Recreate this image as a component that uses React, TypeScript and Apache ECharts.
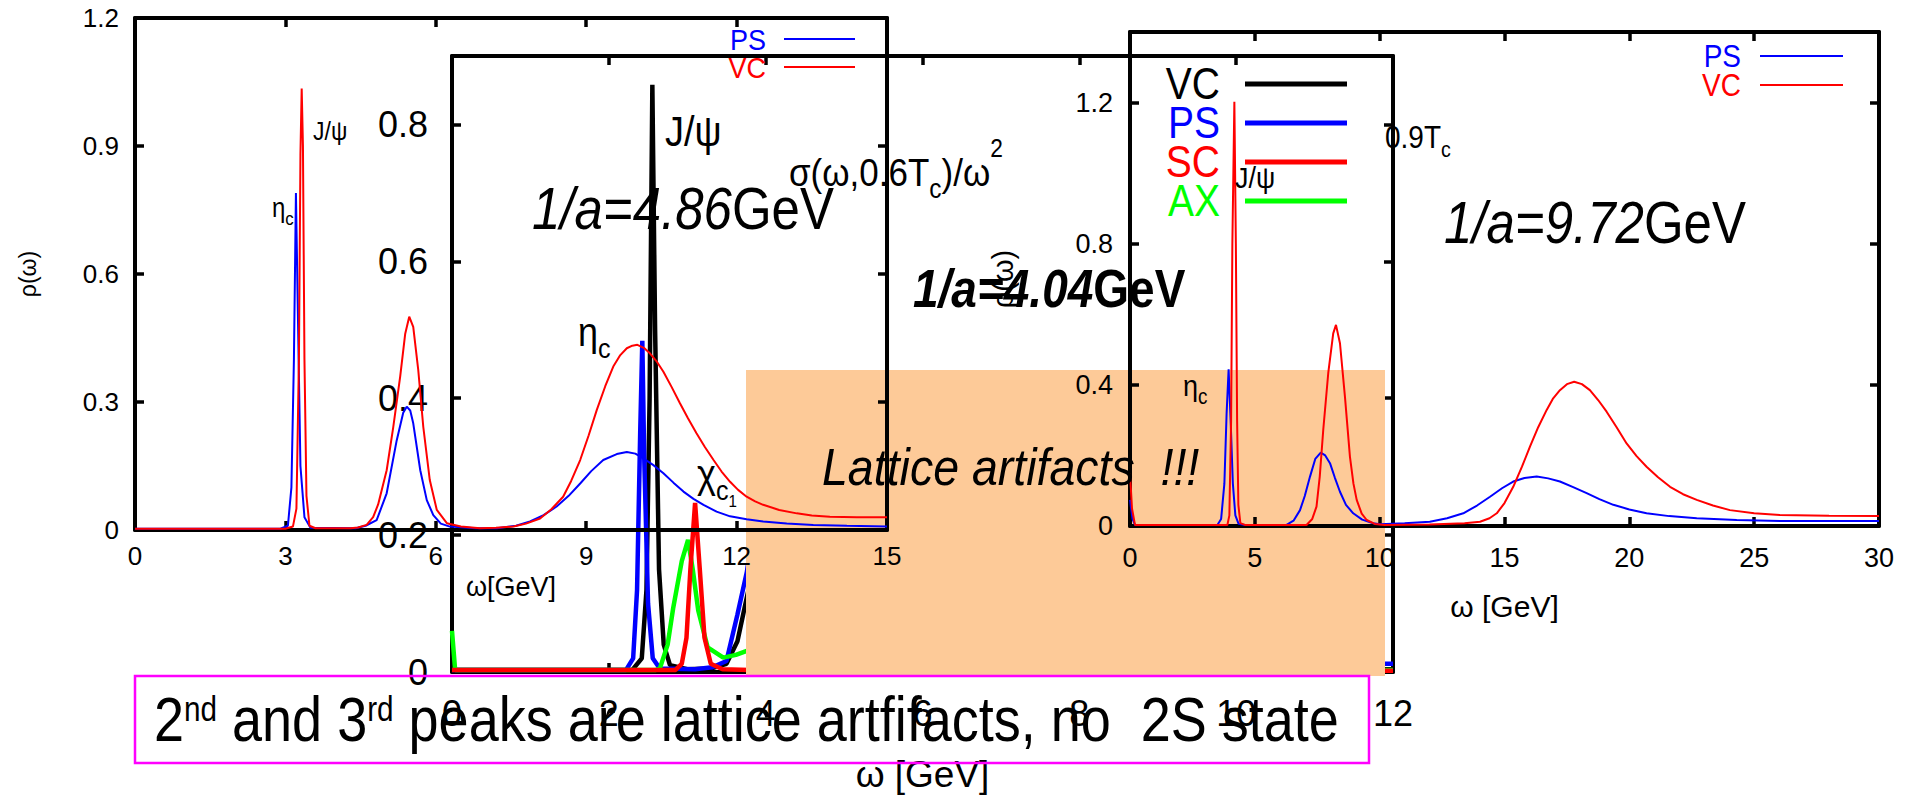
import { useEffect, useRef } from "react";
import * as echarts from "echarts";

type P = [number, number | null];

// ---------- Panel A: 1/a = 4.86 GeV (thin lines) ----------
const panelA_PS: P[] = [
  [0, 0.003], [2.9, 0.003], [3.05, 0.01], [3.12, 0.1], [3.17, 0.4], [3.21, 0.79], [3.25, 0.5], [3.3, 0.15],
  [3.38, 0.03], [3.5, 0.005], [4.4, 0.004], [4.6, 0.01], [4.82, 0.023], [5.02, 0.086], [5.22, 0.21], [5.35, 0.275],
  [5.42, 0.289], [5.49, 0.28], [5.55, 0.25], [5.69, 0.14], [5.82, 0.07], [5.95, 0.035], [6.1, 0.015], [6.28, 0.008],
  [6.8, 0.004], [7.22, 0.004], [7.6, 0.01], [7.88, 0.02], [8.15, 0.035], [8.41, 0.055], [8.65, 0.08], [8.88, 0.109],
  [9.1, 0.138], [9.34, 0.164], [9.61, 0.178], [9.81, 0.183], [9.98, 0.179], [10.14, 0.168], [10.34, 0.152],
  [10.54, 0.133], [10.74, 0.111], [10.94, 0.09], [11.14, 0.073], [11.34, 0.059], [11.6, 0.043], [11.87, 0.032],
  [12.2, 0.025], [12.53, 0.02], [13.0, 0.015], [13.53, 0.012], [14.2, 0.01], [15, 0.008],
];
const panelA_VC: P[] = [
  [0, 0.003], [3.0, 0.003], [3.15, 0.008], [3.22, 0.05], [3.27, 0.4], [3.3, 0.88], [3.325, 1.035], [3.35, 0.9],
  [3.38, 0.4], [3.42, 0.08], [3.48, 0.01], [3.6, 0.004], [4.3, 0.004], [4.45, 0.006], [4.62, 0.012], [4.75, 0.03],
  [4.85, 0.06], [5.02, 0.14], [5.15, 0.24], [5.29, 0.36], [5.39, 0.46], [5.47, 0.5], [5.55, 0.476], [5.65, 0.375],
  [5.75, 0.242], [5.88, 0.117], [6.02, 0.047], [6.22, 0.016], [6.5, 0.008], [6.88, 0.004], [7.2, 0.005],
  [7.55, 0.008], [7.8, 0.015], [8.08, 0.027], [8.3, 0.048], [8.54, 0.078], [8.7, 0.115], [8.88, 0.164],
  [9.05, 0.222], [9.21, 0.281], [9.38, 0.337], [9.54, 0.383], [9.68, 0.41], [9.81, 0.426], [9.92, 0.432],
  [10.02, 0.434], [10.15, 0.427], [10.27, 0.414], [10.4, 0.396], [10.54, 0.371], [10.7, 0.336], [10.87, 0.297],
  [11.03, 0.262], [11.2, 0.227], [11.37, 0.194], [11.54, 0.164], [11.7, 0.137], [11.87, 0.113], [12.03, 0.094],
  [12.2, 0.078], [12.37, 0.067], [12.53, 0.059], [12.85, 0.047], [13.2, 0.039], [13.5, 0.034], [13.86, 0.031],
  [14.4, 0.03], [15, 0.03],
];

// ---------- Panel B: 1/a = 4.04 GeV (thick lines) ----------
const panelB_VC: P[] = [
  [0, 0.003], [2.3, 0.003], [2.42, 0.02], [2.48, 0.12], [2.52, 0.4], [2.555, 0.858], [2.59, 0.5], [2.64, 0.15],
  [2.7, 0.04], [2.78, 0.01], [3.0, 0.004], [3.3, 0.005], [3.5, 0.012], [3.64, 0.045], [3.73, 0.093], [3.8, 0.13],
  [3.85, null], [11.8, 0.004], [12, 0.004],
];
const panelB_PS: P[] = [
  [0, 0.003], [2.22, 0.003], [2.31, 0.02], [2.36, 0.12], [2.4, 0.35], [2.427, 0.484], [2.45, 0.32], [2.5, 0.1],
  [2.56, 0.02], [2.65, 0.005], [3.1, 0.004], [3.32, 0.007], [3.5, 0.016], [3.64, 0.084], [3.76, 0.146],
  [3.82, 0.19], [3.86, null], [11.8, 0.012], [12, 0.012],
];
const panelB_SC: P[] = [
  [0, 0.003], [2.85, 0.003], [2.93, 0.012], [2.99, 0.05], [3.04, 0.15], [3.1, 0.247], [3.16, 0.15], [3.22, 0.05],
  [3.3, 0.012], [3.45, 0.004], [3.8, 0.003], [3.85, null], [11.8, 0.002], [12, 0.002],
];
const panelB_AX: P[] = [
  [0, 0.06], [0.04, 0.003], [2.6, 0.003], [2.65, 0.005], [2.75, 0.04], [2.82, 0.093], [2.93, 0.162], [3.01, 0.193],
  [3.07, 0.15], [3.14, 0.09], [3.26, 0.036], [3.46, 0.021], [3.62, 0.025], [3.76, 0.031], [3.85, null],
  [11.8, 0.003], [12, 0.003],
];

// ---------- Panel C: 1/a = 9.72 GeV (thin lines) ----------
const panelC_PS: P[] = [
  [0, 0.074], [0.1, 0.02], [0.2, 0.003], [3.5, 0.003], [3.65, 0.02], [3.78, 0.12], [3.87, 0.32], [3.95, 0.444],
  [4.03, 0.3], [4.12, 0.12], [4.22, 0.03], [4.35, 0.006], [4.6, 0.003], [6.27, 0.003], [6.55, 0.015], [6.81, 0.045],
  [7.0, 0.085], [7.21, 0.14], [7.42, 0.19], [7.64, 0.208], [7.82, 0.2], [8.01, 0.178], [8.2, 0.138], [8.41, 0.097],
  [8.65, 0.06], [8.94, 0.036], [9.3, 0.018], [9.74, 0.008], [10.01, 0.005], [11.0, 0.008], [12.01, 0.012],
  [12.7, 0.022], [13.35, 0.036], [13.9, 0.058], [14.42, 0.083], [14.9, 0.107], [15.35, 0.126], [15.8, 0.136],
  [16.29, 0.14], [16.75, 0.135], [17.22, 0.126], [17.75, 0.11], [18.29, 0.093], [18.8, 0.076], [19.36, 0.06],
  [20.0, 0.047], [20.69, 0.036], [21.6, 0.028], [22.7, 0.022], [24.3, 0.017], [26.03, 0.014], [28, 0.014],
  [30, 0.014],
];
const panelC_VC: P[] = [
  [0, 0.15], [0.08, 0.05], [0.2, 0.003], [3.9, 0.003], [3.98, 0.03], [4.05, 0.3], [4.1, 0.8], [4.18, 1.202],
  [4.24, 0.8], [4.29, 0.3], [4.34, 0.06], [4.42, 0.008], [4.6, 0.003], [7.07, 0.003], [7.3, 0.02], [7.47, 0.055],
  [7.6, 0.14], [7.74, 0.272], [7.94, 0.433], [8.14, 0.546], [8.25, 0.57], [8.41, 0.518], [8.61, 0.366],
  [8.81, 0.196], [8.95, 0.12], [9.08, 0.074], [9.28, 0.035], [9.48, 0.017], [9.8, 0.006], [10.2, 0.003],
  [12, 0.004], [13.4, 0.008], [14.02, 0.012], [14.4, 0.022], [14.69, 0.036], [15.0, 0.065], [15.35, 0.111],
  [15.7, 0.168], [16.02, 0.225], [16.35, 0.28], [16.69, 0.329], [16.95, 0.362], [17.22, 0.385], [17.5, 0.402],
  [17.79, 0.409], [18.1, 0.402], [18.42, 0.385], [18.75, 0.357], [19.09, 0.324], [19.49, 0.28], [19.89, 0.234],
  [20.29, 0.198], [20.69, 0.168], [21.15, 0.138], [21.63, 0.111], [22.15, 0.09], [22.7, 0.074], [23.35, 0.058],
  [24.03, 0.045], [25.0, 0.036], [26.03, 0.031], [28, 0.029], [30, 0.028],
];

// axis ranges: [min, max, step]
const rangeA = { x: [0, 15, 3], y: [0, 1.2, 0.3] };
const rangeB = { x: [0, 12, 2], y: [0, 0.9, 0.2] };
const rangeC = { x: [0, 30, 5], y: [0, 1.4, 0.4] };

const legendA = ["PS", "VC"];
const legendB = ["VC", "PS", "SC", "AX"];
const legendC = ["PS", "VC"];

const BLUE = "#0000ff";
const RED = "#ff0000";
const GREEN = "#00ff00";
const BLACK = "#000000";
const ORANGE = "#fdca98";
const MAGENTA = "#ff00ff";
const FAMILY = '"Liberation Sans", Arial, Helvetica, sans-serif';
const NBSP = "\u00a0";

type Seg = { t: string; k?: number; dy?: number; italic?: boolean; bold?: boolean };
const SUB = { k: 0.7, dy: 0.4 };

let measureCtx: CanvasRenderingContext2D | null = null;
function textWidth(text: string, font: string): number {
  if (!measureCtx) measureCtx = document.createElement("canvas").getContext("2d");
  measureCtx!.font = font;
  return measureCtx!.measureText(text).width;
}
function fontString(size: number, italic?: boolean, bold?: boolean) {
  return `${italic ? "italic " : ""}${bold ? "bold " : ""}${size}px ${FAMILY}`;
}

// Text made of pieces with sub/superscripts, laid out left to right,
// optionally stretched vertically like the plot's PostScript lettering.
function richLabel(
  segs: Seg[], x: number, y: number, size: number, color: string,
  align: "left" | "right" = "left", scaleY = 1.12, z = 20,
) {
  const children: any[] = [];
  let cx = 0;
  for (const s of segs) {
    const sz = size * (s.k ?? 1);
    const dy = size * (s.dy ?? 0);
    const font = fontString(sz, s.italic, s.bold);
    children.push({
      type: "text",
      x: cx,
      y: dy,
      z,
      silent: true,
      style: {
        text: s.t, font, fill: color,
        textAlign: "left", textVerticalAlign: "middle", align: "left", verticalAlign: "middle",
      },
    });
    cx += textWidth(s.t, font);
  }
  return { type: "group", x: align === "right" ? x - cx : x, y, scaleY, children };
}

function legendBlock(names: string[], colors: string[], textRight: number, lineX1: number, lineX2: number, ys: number[], size: number, width: number) {
  const out: any[] = [];
  names.forEach((n, i) => {
    out.push(richLabel([{ t: n }], textRight, ys[i], size, colors[i], "right"));
    out.push({
      type: "line", z: 20, silent: true,
      shape: { x1: lineX1, y1: ys[i], x2: lineX2, y2: ys[i] },
      style: { stroke: colors[i], lineWidth: width },
    });
  });
  return out;
}

type PanelCfg = {
  grid: { left: number; top: number; width: number; height: number };
  range: { x: number[]; y: number[] };
  tickFont: number; xMargin: number; yMargin: number;
  xName: string; xNameGap: number; xNameSize: number;
  yName: string; yNameGap: number; yNameSize: number;
  z: number;
};

const panels: PanelCfg[] = [
  {
    grid: { left: 135, top: 18, width: 752, height: 512 }, range: rangeA,
    tickFont: 26, xMargin: 13, yMargin: 16,
    xName: "ω[GeV]", xNameGap: 42, xNameSize: 27, yName: "ρ(ω)", yNameGap: 96, yNameSize: 23, z: 10,
  },
  {
    grid: { left: 452, top: 56, width: 941, height: 622 }, range: rangeB,
    tickFont: 36, xMargin: 23, yMargin: 24,
    xName: "ω [GeV]", xNameGap: 84, xNameSize: 37, yName: "", yNameGap: 0, yNameSize: 10, z: 1,
  },
  {
    grid: { left: 1130, top: 32, width: 749, height: 494 }, range: rangeC,
    tickFont: 27, xMargin: 18, yMargin: 17,
    xName: "ω [GeV]", xNameGap: 65, xNameSize: 30, yName: "ρ(ω)", yNameGap: 113, yNameSize: 29, z: 10,
  },
];

function buildOption() {
  const grids: any[] = [];
  const xAxes: any[] = [];
  const yAxes: any[] = [];
  const boxLine = { show: true, onZero: false, lineStyle: { color: BLACK, width: 4 } };
  const tick = { show: true, inside: true, length: 9, lineStyle: { color: BLACK, width: 3.5 } };

  panels.forEach((p, i) => {
    grids.push({ ...p.grid, show: false, containLabel: false });
    const [x0, x1, xs] = p.range.x;
    const [y0, y1, ys] = p.range.y;
    const labelStyle = { color: BLACK, fontFamily: FAMILY, fontSize: p.tickFont };
    xAxes.push({
      gridIndex: i, type: "value", position: "bottom", min: x0, max: x1, interval: xs, z: p.z,
      axisLine: boxLine, axisTick: tick, splitLine: { show: false },
      axisLabel: { ...labelStyle, margin: p.xMargin },
      name: p.xName, nameLocation: "middle", nameGap: p.xNameGap,
      nameTextStyle: { color: BLACK, fontFamily: FAMILY, fontSize: p.xNameSize },
    });
    xAxes.push({
      gridIndex: i, type: "value", position: "top", min: x0, max: x1, interval: xs, z: p.z,
      axisLine: boxLine, axisTick: tick, splitLine: { show: false }, axisLabel: { show: false },
    });
    yAxes.push({
      gridIndex: i, type: "value", position: "left", min: y0, max: y1, interval: ys, z: p.z,
      axisLine: boxLine, axisTick: tick, splitLine: { show: false },
      axisLabel: { ...labelStyle, margin: p.yMargin, showMaxLabel: i === 0 },
      name: p.yName, nameLocation: "middle", nameGap: p.yNameGap, nameRotate: 90,
      nameTextStyle: { color: BLACK, fontFamily: FAMILY, fontSize: p.yNameSize },
    });
    yAxes.push({
      gridIndex: i, type: "value", position: "right", min: y0, max: y1, interval: ys, z: p.z,
      axisLine: boxLine, axisTick: tick, splitLine: { show: false }, axisLabel: { show: false },
    });
  });

  const line = (name: string, data: P[], panel: number, color: string, width: number) => ({
    name, type: "line", data, xAxisIndex: panel * 2, yAxisIndex: panel * 2,
    showSymbol: false, symbol: "none", connectNulls: false, clip: true, silent: true,
    z: panels[panel].z, lineStyle: { color, width }, itemStyle: { color },
  });

  const series = [
    line("VC 4.04", panelB_VC, 1, BLACK, 4.5),
    line("PS 4.04", panelB_PS, 1, BLUE, 4.5),
    line("AX 4.04", panelB_AX, 1, GREEN, 4.5),
    line("SC 4.04", panelB_SC, 1, RED, 4.5),
    line("PS 4.86", panelA_PS, 0, BLUE, 2),
    line("VC 4.86", panelA_VC, 0, RED, 2),
    line("PS 9.72", panelC_PS, 2, BLUE, 2),
    line("VC 9.72", panelC_VC, 2, RED, 2),
  ];

  const graphics: any[] = [
    // shaded band marking the artifact region
    { type: "rect", z: 5, silent: true, shape: { x: 746, y: 370, width: 639, height: 306 }, style: { fill: ORANGE } },

    // panel A annotations
    richLabel([{ t: "J/ψ" }], 313, 131, 23, BLACK),
    richLabel([{ t: "η" }, { t: "c", ...SUB }], 272, 208, 24, BLACK),
    ...legendBlock(legendA, [BLUE, RED], 766, 784, 855, [39, 67], 27, 2),
    richLabel([{ t: "1/a=4.86", italic: true }, { t: "GeV" }], 532, 209, 51, BLACK, "left", 1.15),
    richLabel([{ t: "σ(ω,0.6T" }, { t: "c", k: 0.7, dy: 0.42 }, { t: ")/ω" }, { t: "2", k: 0.65, dy: -0.6 }], 789, 172, 35, BLACK),

    // panel B annotations
    richLabel([{ t: "J/ψ" }], 665, 131, 38, BLACK),
    richLabel([{ t: "η" }, { t: "c", ...SUB }], 578, 332, 36, BLACK),
    richLabel([{ t: "χ" }, { t: "c", k: 0.7, dy: 0.42 }, { t: "1", k: 0.42, dy: 0.66 }], 697, 474, 36, BLACK),
    richLabel([{ t: "1/a=4.04", italic: true, bold: true }, { t: "GeV", bold: true }], 913, 289, 46, BLACK, "left", 1.15),
    ...legendBlock(legendB, [BLACK, BLUE, RED, GREEN], 1220, 1245, 1347, [84, 123, 162, 201], 39, 5),
    richLabel([{ t: `Lattice artifacts ${NBSP}!!!`, italic: true }], 822, 467, 46.5, BLACK, "left", 1.13),

    // panel C annotations
    richLabel([{ t: "J/ψ" }], 1235, 177, 27, BLACK),
    richLabel([{ t: "η" }, { t: "c", ...SUB }], 1183, 385, 27, BLACK),
    richLabel([{ t: "0.9T" }, { t: "c", ...SUB }], 1385, 137, 28, BLACK),
    richLabel([{ t: "1/a=9.72", italic: true }, { t: "GeV" }], 1444, 223, 51, BLACK, "left", 1.15),
    ...legendBlock(legendC, [BLUE, RED], 1741, 1760, 1843, [56, 85], 28, 2),

    // conclusion box
    {
      type: "rect", z: 25, silent: true,
      shape: { x: 135, y: 676, width: 1234, height: 87 },
      style: { fill: "none", stroke: MAGENTA, lineWidth: 2.5 },
    },
    richLabel(
      [
        { t: "2" }, { t: "nd", k: 0.55, dy: -0.16 }, { t: " and 3" }, { t: "rd", k: 0.55, dy: -0.16 },
        { t: ` peaks are lattice artfifacts, no ${NBSP}2S state` },
      ],
      154, 719, 54, BLACK, "left", 1.16,
    ),
  ];

  return {
    animation: false,
    backgroundColor: "#ffffff",
    grid: grids,
    xAxis: xAxes,
    yAxis: yAxes,
    series,
    graphic: { elements: graphics },
  };
}

export default function App() {
  const ref = useRef<HTMLDivElement>(null);
  useEffect(() => {
    if (!ref.current) return;
    const chart = echarts.init(ref.current, null, { renderer: "svg" });
    chart.setOption(buildOption() as any);
    return () => chart.dispose();
  }, []);
  return (
    <div
      ref={ref}
      style={{ position: "fixed", left: 0, top: 0, width: "1919px", height: "798px", background: "#fff" }}
    />
  );
}
